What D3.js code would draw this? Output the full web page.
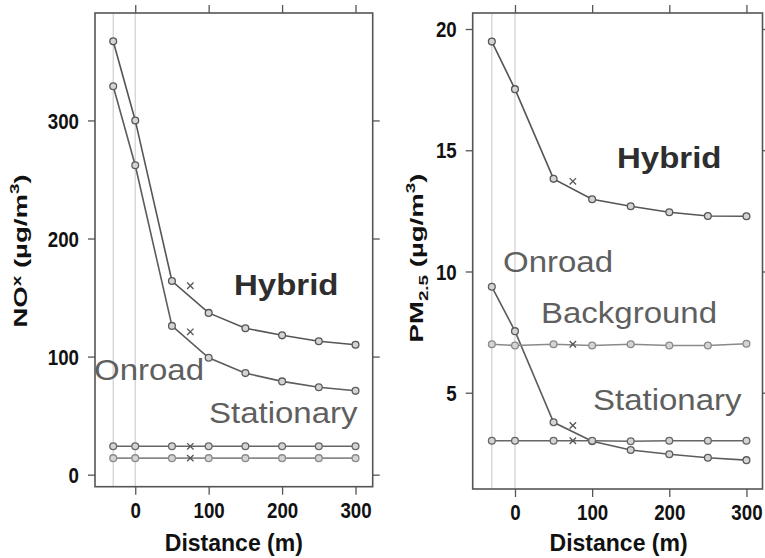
<!DOCTYPE html>
<html>
<head>
<meta charset="utf-8">
<script src="https://cdn.jsdelivr.net/npm/d3@7"></script>
<style>
  html, body { margin: 0; padding: 0; background: #fff; }
  svg { display: block; font-family: "Liberation Sans", Arial, Helvetica, sans-serif; }
</style>
</head>
<body>
<svg id="chart" width="765" height="558"></svg>
<script>
// Receptor distances from the roadway (m); 75 m holds the monitor comparison point
const distances = [-30, 0, 50, 100, 150, 200, 250, 300];
const monitorDistance = 75;

// NOx concentrations (µg/m³)
const noxHybrid     = [367, 300, 164, 137, 124, 118, 113, 110];
const noxOnroad     = [329, 262, 126, 99, 86, 79, 74, 71];
const noxBackground = [24, 24, 24, 24, 24, 24, 24, 24];
const noxStationary = [14, 14, 14, 14, 14, 14, 14, 14];
const noxMonitor    = [160, 121, 24, 14];

// PM2.5 concentrations (µg/m³)
const pmHybrid     = [19.48, 17.52, 13.82, 12.98, 12.69, 12.44, 12.29, 12.28];
const pmOnroad     = [9.37, 7.54, 3.78, 3.0, 2.64, 2.46, 2.32, 2.22];
const pmBackground = [7.0, 6.95, 7.0, 6.95, 7.0, 6.95, 6.95, 7.02];
const pmStationary = [3.02, 3.02, 3.02, 3.02, 3.0, 3.02, 3.02, 3.02];
const pmMonitor    = [13.72, 3.65, 7.0, 3.02];

// Tick labels
const xTicks = [0, 100, 200, 300];
const noxTicks = [0, 100, 200, 300];
const pmTicks = [5, 10, 15, 20];

const svg = d3.select("#chart");
const INK = "#555";

function panel(cfg) {
  const x = d3.scaleLinear().domain(cfg.xDomain).range([cfg.left, cfg.right]);
  const y = d3.scaleLinear().domain(cfg.yDomain).range([cfg.bottom, cfg.top]);
  const g = svg.append("g");

  // reference verticals at the road edge and centreline
  g.selectAll("line.ref").data([-30, 0]).join("line")
    .attr("class", "ref")
    .attr("x1", d => x(d)).attr("x2", d => x(d))
    .attr("y1", cfg.top).attr("y2", cfg.bottom)
    .attr("stroke", "#cfcfcf").attr("stroke-width", 1.2);

  // axes: labelled left/bottom, tick-only top/right
  const tickLabelScale = 0.85;
  const bottomAxis = g.append("g").attr("transform", `translate(0,${cfg.bottom})`)
    .call(d3.axisBottom(x).tickValues(xTicks).tickSize(8).tickSizeOuter(0));
  bottomAxis.selectAll("text")
    .attr("y", 31).attr("dy", 0)
    .attr("transform", `scale(${tickLabelScale},1)`);

  const leftAxis = g.append("g").attr("transform", `translate(${cfg.left},0)`)
    .call(d3.axisLeft(y).tickValues(cfg.yTicks).tickSize(7).tickSizeOuter(0));
  leftAxis.selectAll("text")
    .attr("x", -16 / tickLabelScale).attr("dy", "0.35em")
    .attr("transform", `scale(${tickLabelScale},1)`);

  g.append("g").attr("transform", `translate(0,${cfg.top})`)
    .call(d3.axisTop(x).tickValues(xTicks).tickSize(8).tickSizeOuter(0).tickFormat(""));
  g.append("g").attr("transform", `translate(${cfg.right},0)`)
    .call(d3.axisRight(y).tickValues(cfg.yTicks).tickSize(7).tickSizeOuter(0).tickFormat(""));

  g.selectAll(".domain").remove();
  g.selectAll(".tick line").attr("stroke", INK).attr("stroke-width", 1.3);
  g.selectAll(".tick text")
    .attr("font-size", 22).attr("font-weight", "bold").attr("fill", "#111")
    .attr("font-family", "Liberation Sans, Arial, sans-serif");

  // panel frame
  g.append("rect")
    .attr("x", cfg.left).attr("y", cfg.top)
    .attr("width", cfg.right - cfg.left).attr("height", cfg.bottom - cfg.top)
    .attr("fill", "none").attr("stroke", INK).attr("stroke-width", 1.6);

  // series lines and circle markers
  const line = d3.line().x((d, i) => x(distances[i])).y(d => y(d));
  cfg.series.forEach(s => {
    g.append("path").datum(s.values)
      .attr("d", line).attr("fill", "none")
      .attr("stroke", s.color).attr("stroke-width", 1.6);
    g.selectAll(null).data(s.values).join("circle")
      .attr("cx", (d, i) => x(distances[i])).attr("cy", d => y(d))
      .attr("r", 3.4)
      .attr("fill", "#d4d4d4").attr("stroke", s.color).attr("stroke-width", 1.3);
  });

  // monitor comparison values drawn as crosses
  const c = 3.2;
  cfg.monitor.forEach(v => {
    const cx = x(monitorDistance), cy = y(v);
    g.append("path")
      .attr("d", `M${cx - c},${cy - c}L${cx + c},${cy + c}M${cx - c},${cy + c}L${cx + c},${cy - c}`)
      .attr("stroke", "#555").attr("stroke-width", 1.3).attr("fill", "none");
  });

  // in-panel source labels
  cfg.labels.forEach(l => {
    g.append("text")
      .attr("transform", `translate(${l.x},${l.y}) scale(1.1,1)`)
      .attr("font-size", 30)
      .attr("font-weight", l.bold ? "bold" : "normal")
      .attr("fill", l.bold ? "#2e2e2e" : "#5f5f5f")
      .text(l.text);
  });

  // x-axis title
  g.append("text")
    .attr("x", (cfg.left + cfg.right) / 2 + cfg.titleShift).attr("y", 551)
    .attr("text-anchor", "middle")
    .attr("font-size", 23).attr("font-weight", "bold").attr("fill", "#111")
    .text("Distance (m)");

  // rotated y-axis title with sub/superscripts
  const yt = g.append("text")
    .attr("transform", `translate(${cfg.yTitleX},${cfg.yTitleY}) rotate(-90) scale(1.45,1)`)
    .attr("text-anchor", "middle")
    .attr("font-size", 19).attr("font-weight", "bold").attr("fill", "#111");
  cfg.yTitle(yt);
}

panel({
  left: 95, right: 372.7, top: 13, bottom: 486.7,
  xDomain: [-54.8, 323.4], yDomain: [-10.2, 391],
  yTicks: noxTicks,
  series: [
    { values: noxHybrid, color: "#555" },
    { values: noxOnroad, color: "#5c5c5c" },
    { values: noxBackground, color: "#666" },
    { values: noxStationary, color: "#8a8a8a" }
  ],
  monitor: noxMonitor,
  labels: [
    { text: "Hybrid", x: 234, y: 295, bold: true },
    { text: "Onroad", x: 94, y: 380 },
    { text: "Stationary", x: 209, y: 423 }
  ],
  titleShift: 0,
  yTitleX: 27, yTitleY: 251,
  yTitle: t => {
    t.append("tspan").text("NO");
    t.append("tspan").attr("font-size", 13).attr("dy", -6.5).text("x");
    t.append("tspan").attr("dy", 6.5).text(" (\u00b5g/m");
    t.append("tspan").attr("font-size", 13).attr("dy", -8).text("3");
    t.append("tspan").attr("dy", 8).text(")");
  }
});

panel({
  left: 472.7, right: 762.5, top: 13, bottom: 489,
  xDomain: [-54.8, 320.8], yDomain: [1.03, 20.66],
  yTicks: pmTicks,
  series: [
    { values: pmHybrid, color: "#555" },
    { values: pmOnroad, color: "#5c5c5c" },
    { values: pmBackground, color: "#8a8a8a" },
    { values: pmStationary, color: "#666" }
  ],
  monitor: pmMonitor,
  labels: [
    { text: "Hybrid", x: 617, y: 168, bold: true },
    { text: "Onroad", x: 503, y: 272 },
    { text: "Background", x: 541, y: 323 },
    { text: "Stationary", x: 593, y: 410 }
  ],
  titleShift: 1,
  yTitleX: 423, yTitleY: 258,
  yTitle: t => {
    t.append("tspan").text("PM");
    t.append("tspan").attr("font-size", 13).attr("dy", 5).text("2.5");
    t.append("tspan").attr("dy", -5).text(" (\u00b5g/m");
    t.append("tspan").attr("font-size", 13).attr("dy", -8).text("3");
    t.append("tspan").attr("dy", 8).text(")");
  }
});
</script>
</body>
</html>
